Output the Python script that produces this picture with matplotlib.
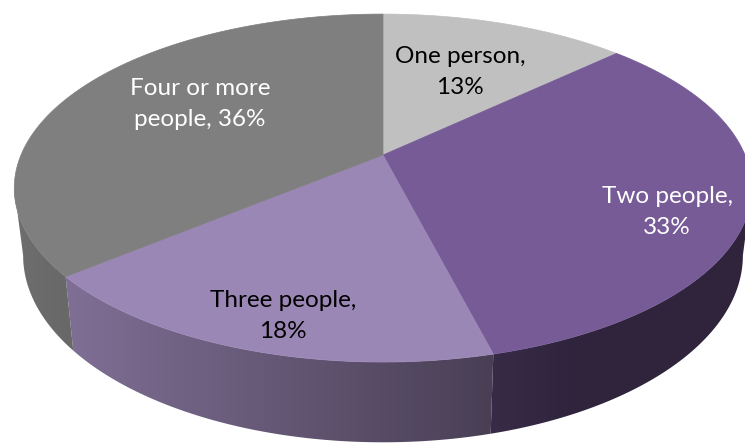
import numpy as np
import matplotlib.pyplot as plt
from matplotlib.patches import Polygon
from matplotlib.colors import to_rgb

# ---------------- data ----------------
names = ['One person', 'Two people', 'Three people', 'Four or more\npeople']
shares = [13, 33, 18, 36]
seps = [',\n', ',\n', ',\n', ', ']
top_colors = ['#c0c0c0', '#765b97', '#9b87b5', '#7f7f7f']
text_colors = ['black', 'white', 'black', 'white']
label_xy = [(460, 72), (667, 212), (283, 316), (200, 104)]

# ---------------- projection of the disc ----------------
cx, cy = 383, 155          # centre of the pie in pixels
rx, ry = 362, 167.7         # radii
g = 0.19                    # perspective strength
depth = 65                  # thickness
shrink = 0.976              # sides lean in a little


def top_pt(th):
    u = np.sin(th)
    v = -np.cos(th)
    w = 1 - g * v
    return cx + rx * u / w, cy + ry * v / w


def bot_pt(th):
    x, y = top_pt(th)
    v = -np.cos(th)
    return cx + (x - cx) * shrink, y + depth / (1 - g * v)


def shade(x):
    return np.clip(0.82 - 0.35 * (x - 70) / 420, 0.40, 0.9)


fig = plt.figure(figsize=(7.45, 4.45), dpi=100)
ax = fig.add_axes([0, 0, 1, 1])
ax.set_xlim(0, 745)
ax.set_ylim(445, 0)
ax.axis('off')

total = float(sum(shares))
edges = np.concatenate([[0], np.cumsum(shares)]) / total * 2 * np.pi

# only the front part of the wall can be seen
vis_lo = np.arccos(-g)
vis_hi = 2 * np.pi - vis_lo

xs = np.arange(0, 746)
for i in range(len(shares)):
    a = max(edges[i], vis_lo)
    b = min(edges[i + 1], vis_hi)
    if b <= a:
        continue
    ths = np.linspace(a, b, 200)
    pts = [top_pt(t) for t in ths] + [bot_pt(t) for t in ths[::-1]]
    wall = Polygon(pts, closed=True, facecolor='none', edgecolor='none')
    ax.add_patch(wall)
    base = np.array(to_rgb(top_colors[i]))
    grad = shade(xs)[None, :, None] * base[None, None, :]
    im = ax.imshow(grad, extent=(0, 746, 445, 0), aspect='auto',
                   interpolation='bilinear', zorder=1)
    im.set_clip_path(wall)

# top faces
for i in range(len(shares)):
    ths = np.linspace(edges[i], edges[i + 1], 200)
    pts = [(cx, cy)] + [top_pt(t) for t in ths]
    ax.add_patch(Polygon(pts, closed=True, facecolor=top_colors[i],
                         edgecolor=top_colors[i], linewidth=0.5, zorder=2))

ax.set_xlim(0, 745)
ax.set_ylim(445, 0)

# labels
for i in range(len(shares)):
    txt = names[i] + seps[i] + str(shares[i]) + '%'
    ax.text(label_xy[i][0], label_xy[i][1], txt, ha='center', va='center',
            fontsize=17.5, family='Lato', color=text_colors[i],
            linespacing=1.62, zorder=3)

fig.savefig('out.png', dpi=100)
